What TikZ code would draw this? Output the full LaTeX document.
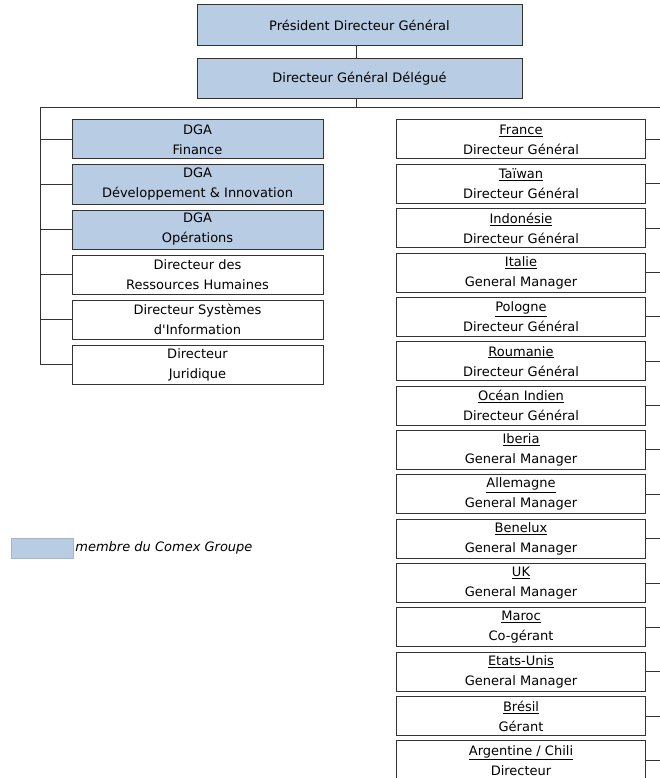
\documentclass[tikz,border=0pt]{standalone}
\usepackage{fontspec}
\setmainfont{DejaVu Sans}
\usetikzlibrary{positioning}
\definecolor{comexblue}{HTML}{B8CCE4}
\definecolor{traitgris}{HTML}{333333}

\tikzset{
  poste/.style={draw=traitgris, line width=1pt, inner sep=0pt, align=center,
    minimum height=39pt, font=\fontsize{13}{20}\selectfont},
  comex/.style={poste, fill=comexblue},
  gauche/.style={poste, minimum width=251pt},
  droite/.style={poste, minimum width=249pt},
  lien/.style={draw=traitgris, line width=1pt}
}

\begin{document}
\begin{tikzpicture}[x=1pt,y=-1pt]
		\useasboundingbox (0,0) rectangle (660,778);

		% Direction
		\node[comex, minimum width=325pt, minimum height=41pt] (pdg) at (359.5,25.5) {Président Directeur Général};
		\node[comex, minimum width=325pt, minimum height=40pt] (dgd) at (359.5,79) {Directeur Général Délégué};

		% Bus
		\coordinate (bus) at (356,108);
		\coordinate (busg) at (40,108);
		\coordinate (busd) at (660,108);
		\draw[lien] (pdg.south -| bus) -- (dgd.north -| bus);
		\draw[lien] (dgd.south -| bus) -- (bus);
		\draw[lien] (busg) -- (busd);

		% Directions groupe
		\node[gauche, comex] (fin) at (197.5,139.5) {DGA\\Finance};
		\node[gauche, comex, below=5pt of fin] (dev) {DGA\\Développement \& Innovation};
		\node[gauche, comex, below=5pt of dev] (ops) {DGA\\Opérations};
		\node[gauche, below=5pt of ops] (rh) {Directeur des\\Ressources Humaines};
		\node[gauche, below=5pt of rh] (dsi) {Directeur Systèmes\\d\textquotesingle Information};
		\node[gauche, below=5pt of dsi] (jur) {Directeur\\Juridique};

		\draw[lien] (busg) -- (busg |- jur);
		\foreach \n in {fin,dev,ops,rh,dsi,jur}
			\draw[lien] (busg |- \n) -- (\n.west);

		% Pays
		\foreach \pays/\titre [count=\i from 0] in {France/Directeur Général,
			Taïwan/Directeur Général, Indonésie/Directeur Général, Italie/General Manager,
			Pologne/Directeur Général, Roumanie/Directeur Général, Océan Indien/Directeur Général,
			Iberia/General Manager, Allemagne/General Manager, Benelux/General Manager,
			UK/General Manager, Maroc/Co-gérant, Etats-Unis/General Manager,
			Brésil/Gérant, {Argentine / Chili}/Directeur}
		{
			\node[droite] (pays\i) at (521,139.5+44.35*\i) {\underline{\pays}\\\titre};
			\draw[lien] (pays\i.east) -- (pays\i.east -| busd);
		}

		% Legende
		\node[fill=comexblue, draw=comexblue!70!gray, minimum width=62pt, minimum height=20pt, inner sep=0pt] (leg) at (42,548) {};
		\node[right=2pt of leg, inner sep=0pt, font=\fontsize{13}{15}\selectfont\itshape] (legtxt) {membre du Comex Groupe};
	\end{tikzpicture}
\end{document}
